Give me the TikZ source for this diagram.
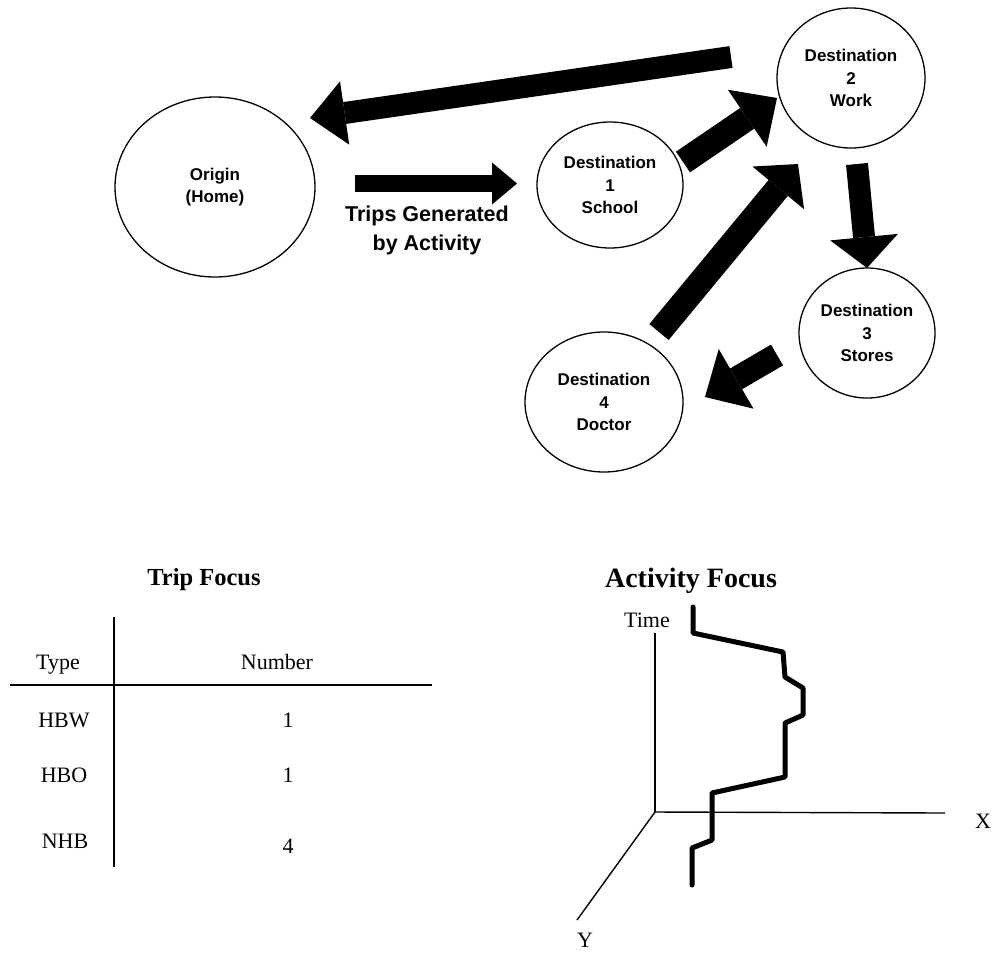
\documentclass[tikz,border=0pt]{standalone}
\usepackage{fontspec}
\setmainfont{Liberation Serif}
\newfontfamily\sansf{Liberation Sans}
\usetikzlibrary{shapes.geometric,arrows.meta}
\begin{document}
\begin{tikzpicture}[x=1pt,y=-1pt,
  place/.style={ellipse,draw,line width=1.3pt,inner sep=0pt,align=center,
    font=\sansf\bfseries\fontsize{17}{22.5}\selectfont},
  blkarrow/.style n args={3}{line width=#1,
    -{Triangle[length=#2,width=#3,line width=0pt]}},
  tab/.style={anchor=base,inner sep=0pt,font=\fontsize{22}{26}\selectfont},
  ttl/.style={anchor=base,inner sep=0pt,font=\bfseries\fontsize{#1}{#1}\selectfont},
  rule/.style={line width=1.4pt},
  trace/.style={line width=5pt,line join=round,line cap=round}]
\useasboundingbox (0,0) rectangle (995,954);

% ---- circles
\node[place,minimum width=200pt,minimum height=180pt] (origin) at (215,187) {Origin\\(Home)};
\node[place,minimum width=146pt,minimum height=126pt] (d1) at (610,185) {Destination\\1\\School};
\node[place,minimum width=148pt,minimum height=140pt] (d2) at (851,78) {Destination\\2\\Work};
\node[place,minimum width=136pt,minimum height=130pt] (d3) at (867,333) {Destination\\3\\Stores};
\node[place,minimum width=158pt,minimum height=140pt] (d4) at (604,402) {Destination\\4\\Doctor};

\node[align=center,inner sep=0pt,font=\sansf\bfseries\fontsize{21.5}{29}\selectfont] (lbl) at (427,230) {Trips Generated\\by Activity};

% ---- connector end points
\coordinate (a1s) at (731,57);  \coordinate (a1e) at (310,118);
\coordinate (a2s) at (355,183.5); \coordinate (a2e) at (517,183.5);
\coordinate (a3s) at (683,162); \coordinate (a3e) at (777,98);
\coordinate (a4s) at (659,332); \coordinate (a4e) at (798,164);
\coordinate (a5s) at (857,164); \coordinate (a5e) at (867,268);
\coordinate (a6s) at (777,355); \coordinate (a6e) at (705,397);

\draw[blkarrow={22pt}{35pt}{64pt}] (a1s) -- (a1e);
\draw[blkarrow={17pt}{25pt}{42pt}] (a2s) -- (a2e);
\draw[blkarrow={25pt}{36pt}{69pt}] (a3s) -- (a3e);
\draw[blkarrow={25pt}{31pt}{67pt}] (a4s) -- (a4e);
\draw[blkarrow={22pt}{31pt}{68pt}] (a5s) -- (a5e);
\draw[blkarrow={24pt}{36pt}{69pt}] (a6s) -- (a6e);

% ---- Trip Focus table
\node[ttl=24.5] (tf) at (204,585) {Trip Focus};
\draw[rule] (114,617) -- (114,867);
\draw[rule] (10,685) -- (432,685);
\node[tab] (ttype) at (58,669) {Type};
\node[tab] (tnum) at (277,669) {Number};
\node[tab] (thbw) at (64,727) {HBW};
\node[tab] (n1) at (288,727) {1};
\node[tab] (thbo) at (64,782) {HBO};
\node[tab] (n2) at (288,782) {1};
\node[tab] (tnhb) at (65,848) {NHB};
\node[tab] (n3) at (288,853) {4};

% ---- Activity Focus
\node[ttl=28] (af) at (691,587) {Activity Focus};
\coordinate (o) at (655,812);
\draw[rule] (o) -- (655,633);
\draw[rule] (o) -- (945,813);
\draw[rule] (o) -- (577,920);
\node[tab] (time) at (647,627) {Time};
\node[tab] (xl) at (983,828) {X};
\node[tab] (yl) at (585,947) {Y};
\draw[trace] (693,607) -- (693,633) -- (783,652) -- (785,677) -- (803,688)
  -- (803,715) -- (785,723) -- (785,777) -- (712,793) -- (712,840)
  -- (692,848) -- (692,885);
\end{tikzpicture}
\end{document}
